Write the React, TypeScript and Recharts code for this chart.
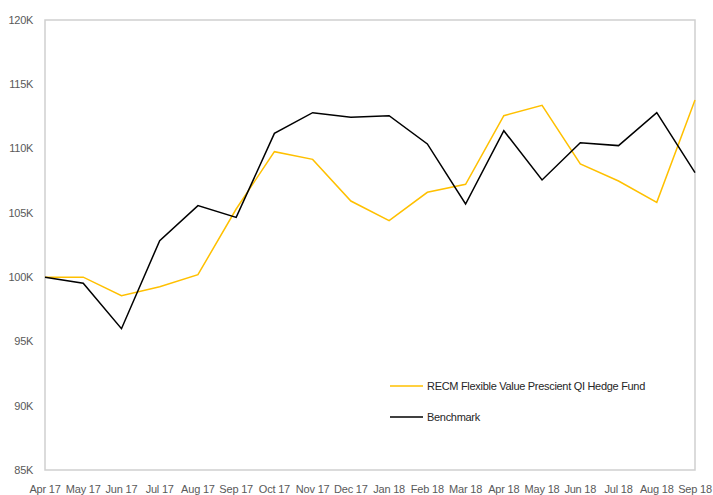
import React from 'react';
import { LineChart, Line, XAxis, YAxis, ReferenceArea } from 'recharts';

const months = ['Apr 17','May 17','Jun 17','Jul 17','Aug 17','Sep 17','Oct 17','Nov 17','Dec 17','Jan 18','Feb 18','Mar 18','Apr 18','May 18','Jun 18','Jul 18','Aug 18','Sep 18'];
const fundValues = [100000, 100000, 98560, 99260, 100190, 105300, 109760, 109160, 105920, 104390, 106600, 107220, 112560, 113360, 108800, 107480, 105820, 113780];
const benchmarkValues = [100000, 99520, 95990, 102840, 105560, 104650, 111180, 112790, 112430, 112560, 110360, 105690, 111390, 107560, 110460, 110230, 112790, 108130];
const yTicks = [85000, 90000, 95000, 100000, 105000, 110000, 115000, 120000];
const fundName = 'RECM Flexible Value Prescient QI Hedge Fund';
const benchName = 'Benchmark';

const data = months.map((m, i) => ({ month: m, fund: fundValues[i], bench: benchmarkValues[i] }));

const FONT = '"Liberation Sans", Arial, sans-serif';

const legendRows = [{ c: '#FFC000', t: fundName }, { c: '#000000', t: benchName }];

export default function App() {
  return (
    <div style={{ position: 'absolute', left: 0, top: 0, width: 713, height: 495, background: '#fff' }}>
      <LineChart width={713} height={495} data={data} margin={{ top: 20, right: 18, bottom: 0, left: 0 }}>
        <ReferenceArea x1="Apr 17" x2="Sep 18" y1={85000} y2={120000} fill="none" stroke="#d0d0d0" strokeWidth={1.5} ifOverflow="visible" />
        <XAxis dataKey="month" height={25} axisLine={false} tickLine={false} tickSize={6} tickMargin={9} interval={0}
          tick={{ fill: '#595959', fontSize: 11, fontFamily: FONT, letterSpacing: -0.2 }} />
        <YAxis width={45} domain={[85000, 120000]} ticks={yTicks} axisLine={false} tickLine={false} tickSize={6} tickMargin={6}
          tickFormatter={(v: number) => `${v / 1000}K`} tick={{ fill: '#595959', fontSize: 11, fontFamily: FONT, letterSpacing: -0.3 }} />
        <Line type="linear" dataKey="fund" name={fundName} stroke="#FFC000" strokeWidth={1.5} dot={false} isAnimationActive={false} />
        <Line type="linear" dataKey="bench" name={benchName} stroke="#000000" strokeWidth={1.5} dot={false} isAnimationActive={false} />
      </LineChart>
      <div style={{ position: 'absolute', left: 390, top: 370, fontFamily: FONT, fontSize: 11, color: '#262626', letterSpacing: -0.3 }}>
        {legendRows.map((r, i) => (
          <div key={i} style={{ display: 'flex', alignItems: 'center', height: 31 }}>
            <svg width={33} height={4} style={{ marginRight: 4 }}>
              <line x1={0} y1={2} x2={33} y2={2} stroke={r.c} strokeWidth={1.5} />
            </svg>
            <span style={{ whiteSpace: 'nowrap' }}>{r.t}</span>
          </div>
        ))}
      </div>
    </div>
  );
}
